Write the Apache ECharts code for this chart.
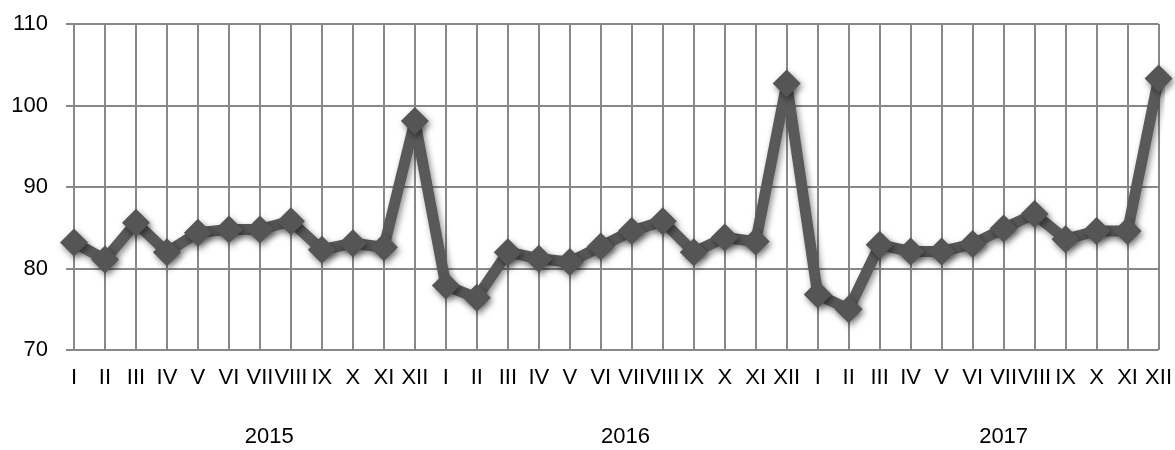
<!DOCTYPE html>
<html>
<head>
<meta charset="utf-8">
<script src="https://cdn.jsdelivr.net/npm/echarts@6/dist/echarts.min.js"></script>
<style>html,body{margin:0;padding:0;background:#fff}#c{width:1175px;height:450px}</style>
</head>
<body>
<div id="c"></div>
<script>
const months = ['I','II','III','IV','V','VI','VII','VIII','IX','X','XI','XII'];
const years = ['2015','2016','2017'];
const categories = [].concat(months, months, months);
const values2015 = [83.2, 81.1, 85.6, 82.0, 84.4, 84.8, 84.8, 85.8, 82.3, 83.1, 82.6, 98.1];
const values2016 = [77.9, 76.4, 82.0, 81.2, 80.8, 82.7, 84.6, 85.8, 82.0, 83.8, 83.3, 102.7];
const values2017 = [76.8, 75.0, 82.9, 82.1, 82.1, 83.0, 84.9, 86.7, 83.6, 84.6, 84.6, 103.3];
const values = [].concat(values2015, values2016, values2017);
const yTicks = { min: 70, max: 110, interval: 10 };
const yearLabelAt = [6.3, 17.8, 30.0];

const gridColor = '#888888';
const font = '"Liberation Sans", Arial, Helvetica, sans-serif';
const chart = echarts.init(document.getElementById('c'));
chart.setOption({
  animation: false,
  grid: { left: 74, right: 15, top: 24, bottom: 100, containLabel: false },
  xAxis: [{
    type: 'category',
    data: categories,
    boundaryGap: false,
    axisLine: { show: false },
    axisTick: { show: false },
    axisLabel: { interval: 0, color: '#000', fontFamily: font, fontSize: 22, margin: 17, hideOverlap: false },
    splitLine: { show: true, interval: 0, lineStyle: { color: gridColor, width: 2 } }
  }, {
    type: 'value',
    min: 0, max: 35,
    position: 'bottom',
    axisLine: { show: false },
    axisTick: { show: false },
    splitLine: { show: false },
    axisLabel: {
      customValues: yearLabelAt,
      showMinLabel: true, showMaxLabel: true,
      formatter: function (v) { const i = yearLabelAt.indexOf(v); return i >= 0 ? years[i] : ''; },
      color: '#000', fontFamily: font, fontSize: 22, margin: 76
    }
  }],
  yAxis: {
    type: 'value',
    min: yTicks.min, max: yTicks.max, interval: yTicks.interval,
    axisLine: { show: false },
    axisTick: { show: true, length: 8, lineStyle: { color: gridColor, width: 2 } },
    axisLabel: { color: '#000', fontFamily: font, fontSize: 22, margin: 26 },
    splitLine: { show: true, lineStyle: { color: gridColor, width: 2 } }
  },
  series: [{
    type: 'line',
    data: values,
    xAxisIndex: 0,
    symbol: 'diamond',
    symbolSize: 28,
    lineStyle: { color: '#595959', width: 11, shadowBlur: 6, shadowColor: 'rgba(0,0,0,0.45)', shadowOffsetX: 2, shadowOffsetY: 3 },
    itemStyle: { color: '#555555', shadowBlur: 6, shadowColor: 'rgba(0,0,0,0.5)', shadowOffsetX: 2, shadowOffsetY: 3 },
    emphasis: { disabled: true }
  }]
});
</script>
</body>
</html>
